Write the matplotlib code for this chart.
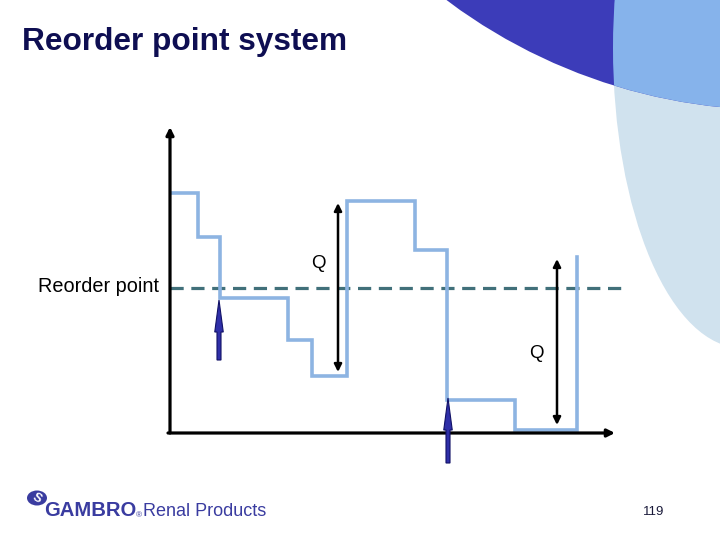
import matplotlib
matplotlib.use("Agg")
import matplotlib.pyplot as plt
from matplotlib.patches import Circle, Ellipse, FancyArrow

plt.rcParams["font.family"] = ["Liberation Sans", "DejaVu Sans"]
plt.rcParams["lines.scale_dashes"] = False

# inventory over time (time units, stock level units)
change_times = [2, 28, 50, 118, 142, 177, 245, 277, 345, 407]
stock_levels = [240, 196, 135, 93, 57, 232, 183, 33, 3, 176]
reorder_level = 145
dash_end = 452

# order placed (blue arrows): time, level from, level to
order_times = [49, 278]
order_from = [73, -30]
order_to = [133, 35]

# order quantity Q (double arrows)
q_times = [168, 387]
q_low = [61, 8]
q_high = [230, 174]
q_label_x = [148, 366]
q_label_y = [170, 80]

x_max, y_max = 445, 306

fig = plt.figure(figsize=(7.2, 5.4), dpi=100)

# background / decoration layer in pixel coordinates
bg = fig.add_axes([0, 0, 1, 1])
bg.set_xlim(0, 720)
bg.set_ylim(540, 0)
bg.axis("off")

light = Ellipse((742, 48), 258, 600, facecolor="#d0e2ee", edgecolor="none")
bg.add_patch(light)
bg.add_patch(Circle((776, -439), 549, facecolor="#3c3cb9", edgecolor="none"))
mid = Circle((776, -439), 549, facecolor="#86b3eb", edgecolor="none")
bg.add_patch(mid)
clip = Ellipse((742, 48), 258, 600, transform=bg.transData)
mid.set_clip_path(clip)

bg.text(22, 42, "Reorder point system", fontsize=22.8, fontweight="bold",
        color="#0e0e52", ha="left", va="center")
bg.text(159, 287, "Reorder point", fontsize=14.3, color="black",
        ha="right", va="center")
bg.text(654, 512, "119", fontsize=9.5, color="#1a1a3a", ha="center", va="center")

# logo
bg.add_patch(Ellipse((37, 498), 20, 15, facecolor="#3a3ca0", edgecolor="none"))
bg.text(37, 498, "S", fontsize=9, fontweight="bold", color="white",
        ha="center", va="center", rotation=-30)
bg.text(44, 511, "GAMBRO", fontsize=14.6, fontweight="bold", color="#3a3ca0",
        ha="left", va="center")
bg.text(136, 516, "®", fontsize=6, color="#3a3ca0", ha="left", va="center")
bg.text(143, 511, "Renal Products", fontsize=13, color="#3a3ca0",
        ha="left", va="center")

# chart layer
ax = fig.add_axes([170 / 720, 1 - 433 / 540, 445 / 720, 306 / 540])
ax.set_xlim(0, x_max)
ax.set_ylim(0, y_max)
ax.axis("off")

ax.plot([0, dash_end], [reorder_level, reorder_level], color="#41707a",
        lw=2.3, dashes=(9.5, 5.5), clip_on=False, zorder=1)
ax.step(change_times, stock_levels, where="post", color="#8db4e2", lw=2.6,
        solid_joinstyle="miter", clip_on=False, zorder=2)

# axes with arrow heads
ax.annotate("", xy=(0, y_max), xytext=(0, 0),
            arrowprops=dict(arrowstyle="-|>", lw=2.3, color="black",
                            mutation_scale=11, shrinkA=0, shrinkB=0),
            annotation_clip=False)
ax.annotate("", xy=(x_max, 0), xytext=(-2, 0),
            arrowprops=dict(arrowstyle="-|>", lw=2.3, color="black",
                            mutation_scale=11, shrinkA=0, shrinkB=0),
            annotation_clip=False)

for t, lo, hi in zip(q_times, q_low, q_high):
    ax.annotate("", xy=(t, hi), xytext=(t, lo),
                arrowprops=dict(arrowstyle="<|-|>", lw=1.8, color="black",
                                mutation_scale=11, shrinkA=0, shrinkB=0),
                annotation_clip=False, zorder=3)

for qx, qy in zip(q_label_x, q_label_y):
    ax.text(qx, qy, "Q", fontsize=13.5, color="black", ha="center", va="center")

for t, lo, hi in zip(order_times, order_from, order_to):
    ax.add_patch(FancyArrow(t, lo, 0, hi - lo, width=4, head_width=8.5,
                            head_length=32, length_includes_head=True,
                            facecolor="#2f2fa8", edgecolor="#111166",
                            lw=0.8, clip_on=False, zorder=4))

fig.savefig("out.png", dpi=100)
